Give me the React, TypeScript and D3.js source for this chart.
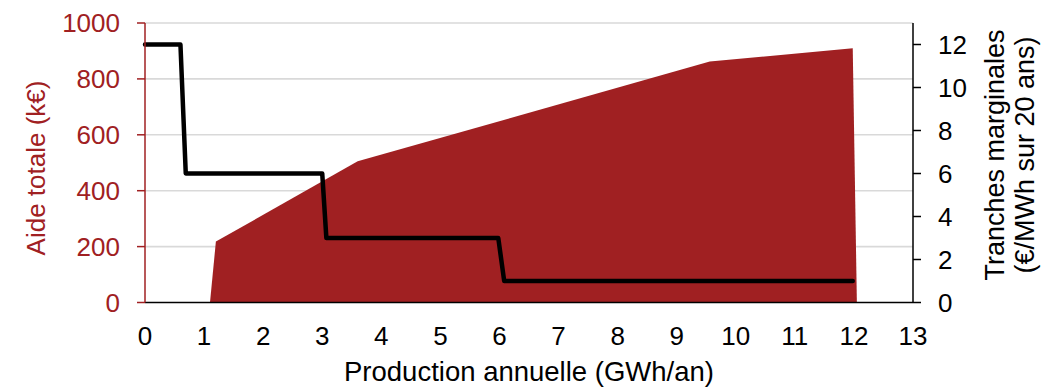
import React from "react";
import * as d3 from "d3";

// Area series: total aid (k€) vs annual production (GWh/an)
const areaX = [1.1, 1.2, 3.6, 9.56, 11.98, 12.05];
const areaY = [0, 218, 505, 862, 910, 0];

// Step line: marginal tranches (€/MWh over 20 years)
const lineX = [0, 0.6, 0.69, 3.0, 3.07, 5.98, 6.08, 11.98];
const lineY = [12, 12, 6, 6, 3, 3, 1, 1];

const xTicks = [0, 1, 2, 3, 4, 5, 6, 7, 8, 9, 10, 11, 12, 13];
const leftTicks = [0, 200, 400, 600, 800, 1000];
const rightTicks = [0, 2, 4, 6, 8, 10, 12];

const W = 1043;
const H = 388;
const L = 145;
const R = 913;
const T = 23;
const B = 302.5;
const RED = "#A02022";
const FONT = "'Liberation Sans', Arial, sans-serif";
const FS = 26;

export default function App() {
  const x = d3.scaleLinear().domain([0, 13]).range([L, R]);
  const yL = d3.scaleLinear().domain([0, 1000]).range([B, T]);
  const yR = d3.scaleLinear().domain([0, 13]).range([B, T]);

  const areaData = areaX.map((v, i) => [v, areaY[i]] as [number, number]);
  const lineData = lineX.map((v, i) => [v, lineY[i]] as [number, number]);

  const areaPath = d3
    .area<[number, number]>()
    .x((d) => x(d[0]))
    .y0(yL(0))
    .y1((d) => yL(d[1]))(areaData) as string;

  const linePath = d3
    .line<[number, number]>()
    .x((d) => x(d[0]))
    .y((d) => yR(d[1]))(lineData) as string;

  return (
    <svg
      width={W}
      height={H}
      style={{ position: "absolute", left: 0, top: 0, background: "#fff" }}
      fontFamily={FONT}
    >
      {/* gridlines */}
      {leftTicks
        .filter((t) => t > 0)
        .map((t) => (
          <line key={"g" + t} x1={L} x2={R} y1={yL(t)} y2={yL(t)} stroke="#d9d9d9" strokeWidth={1.6} />
        ))}

      {/* area */}
      <path d={areaPath} fill={RED} />

      {/* x axis line */}
      <line x1={L} x2={R} y1={B} y2={B} stroke="#000" strokeWidth={1.5} />

      {/* step line */}
      <path d={linePath} fill="none" stroke="#000" strokeWidth={4.5} strokeLinejoin="round" strokeLinecap="round" />

      {/* left axis */}
      <line x1={L} x2={L} y1={T} y2={B} stroke={RED} strokeWidth={1.5} />
      {leftTicks.map((t) => (
        <g key={"l" + t}>
          <line x1={L - 8} x2={L} y1={yL(t)} y2={yL(t)} stroke={RED} strokeWidth={1.5} />
          <text x={L - 25} y={yL(t)} dy="0.35em" textAnchor="end" fontSize={FS} fill={RED}>
            {t}
          </text>
        </g>
      ))}

      {/* right axis */}
      <line x1={R} x2={R} y1={T} y2={B} stroke="#000" strokeWidth={1.5} />
      {rightTicks.map((t) => (
        <g key={"r" + t}>
          <line x1={R} x2={R + 8} y1={yR(t)} y2={yR(t)} stroke="#000" strokeWidth={1.5} />
          <text x={R + 25} y={yR(t)} dy="0.35em" textAnchor="start" fontSize={FS} fill="#000">
            {t}
          </text>
        </g>
      ))}

      {/* x tick labels */}
      {xTicks.map((t) => (
        <text key={"x" + t} x={x(t)} y={345} textAnchor="middle" fontSize={FS} fill="#000">
          {t}
        </text>
      ))}

      {/* axis titles */}
      <text x={529} y={381} textAnchor="middle" fontSize={27.5} fill="#000">
        Production annuelle (GWh/an)
      </text>
      <text transform={`translate(45, 168) rotate(-90)`} textAnchor="middle" fontSize={26} fill={RED}>
        Aide totale (k€)
      </text>
      <text transform={`translate(1004, 155) rotate(-90)`} textAnchor="middle" fontSize={27} fill="#000">
        Tranches marginales
      </text>
      <text transform={`translate(1034, 155) rotate(-90)`} textAnchor="middle" fontSize={27} fill="#000">
        (€/MWh sur 20 ans)
      </text>
    </svg>
  );
}
